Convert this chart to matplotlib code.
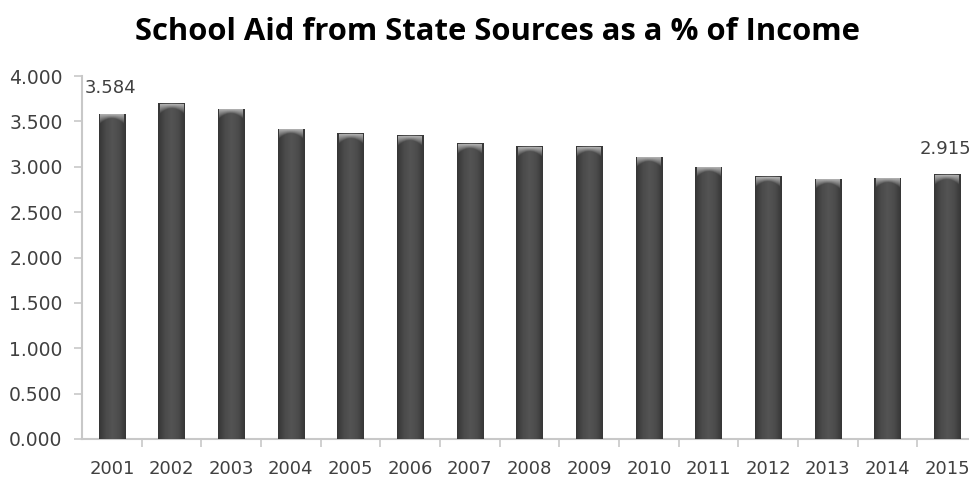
import numpy as np
import matplotlib.pyplot as plt
from matplotlib.colors import LinearSegmentedColormap

# values
years = ['2001', '2002', '2003', '2004', '2005', '2006', '2007', '2008',
         '2009', '2010', '2011', '2012', '2013', '2014', '2015']
aid_pct = [3.584, 3.70, 3.64, 3.42, 3.37, 3.35, 3.26, 3.23,
           3.23, 3.11, 3.00, 2.90, 2.87, 2.88, 2.915]
ytick_vals = [0, 0.5, 1.0, 1.5, 2.0, 2.5, 3.0, 3.5, 4.0]
labelled = {0: '3.584', 14: '2.915'}

W, H = 970, 479
fig = plt.figure(figsize=(W / 100, H / 100), dpi=100)
ax = fig.add_axes([82 / W, 1 - 439 / H, 895 / W, 363 / H])

x = np.arange(len(years))
bw = 0.44
body = LinearSegmentedColormap.from_list(
    'body', ['#363636', '#4a4a4a', '#545454', '#4c4c4c', '#363636'])
grad = np.linspace(0, 1, 64).reshape(1, -1)

# cap shading: light rim at the top fading down in a curved shape
u = np.linspace(-1, 1, 40)
vv = np.linspace(0, 1, 30).reshape(-1, 1)
edge = 0.35 + 0.45 * u ** 2
light = np.clip(1 - vv / edge, 0, 1) ** 0.8
cap_rgba = np.zeros((30, 40, 4))
cap_rgba[..., :3] = 0.78
cap_rgba[..., 3] = light * 0.85

bars = ax.bar(x, aid_pct, width=bw, color='#4a4a4a', edgecolor='none', zorder=2)
for b, v in zip(bars, aid_pct):
    x0 = b.get_x()
    im = ax.imshow(grad, cmap=body, aspect='auto', zorder=3,
                   extent=[x0, x0 + bw, 0, v])
    im.set_clip_path(b)
    c = ax.imshow(cap_rgba, aspect='auto', zorder=4, interpolation='bilinear',
                  extent=[x0 + 0.02, x0 + bw - 0.02, v - 0.14, v - 0.01])
    c.set_clip_path(b)

for i, txt in labelled.items():
    ax.annotate(txt, (x[i], aid_pct[i]), xytext=(-1, 12), textcoords='offset points',
                ha='center', va='bottom', fontsize=13, color='#404040')

ax.set_xlim(-0.5, len(years) - 0.5)
ax.set_ylim(0, 4.0)
ax.set_yticks(ytick_vals)
ax.set_yticklabels(['%.3f' % v for v in ytick_vals])
ax.set_xticks(x)
ax.set_xticklabels(years)
ax.set_xticks(np.arange(len(years)) + 0.5, minor=True)

for s in ['top', 'right']:
    ax.spines[s].set_visible(False)
for s in ['left', 'bottom']:
    ax.spines[s].set_color('#c8c8c8')
    ax.spines[s].set_linewidth(1.5)

ax.tick_params(axis='y', length=6, width=1.2, color='#c8c8c8', labelsize=13.5,
               labelcolor='#404040', pad=8)
ax.tick_params(axis='x', which='major', length=0, labelsize=13,
               labelcolor='#404040', pad=15)
ax.tick_params(axis='x', which='minor', length=6, width=1.2, color='#c8c8c8')

fig.text(0.513, 0.933, 'School Aid from State Sources as a % of Income',
         ha='center', va='center', fontsize=22.3, fontweight='bold',
         family='Open Sans', color='#000000')

fig.savefig('out.png', dpi=100)
